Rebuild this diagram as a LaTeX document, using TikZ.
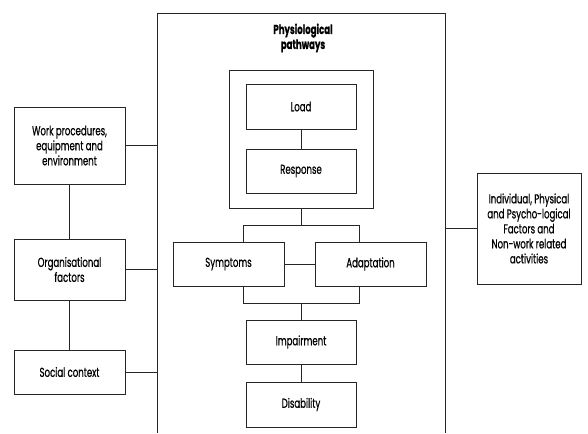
\documentclass[tikz,border=0pt]{standalone}
\usepackage{fontspec}
\setmainfont{Poppins}[FakeStretch=0.66, FakeBold=0.6]
\begin{document}
\begin{tikzpicture}[x=1pt,y=-1pt,
  line/.style={line width=0.8pt, draw=black!85},
  box/.style={line, draw, align=center, inner sep=0pt, fill=white,
    font=\fontsize{13}{15}\selectfont},
  title/.style={align=center, font=\fontsize{13}{15}\selectfont\bfseries}]
\useasboundingbox (0,0) rectangle (588,433);
% main frame (open at the bottom)
\coordinate (mBL) at (157,433);
\coordinate (mTL) at (157,13);
\coordinate (mTR) at (445,13);
\coordinate (mBR) at (445,433);
\draw[line] (mBL) -- (mTL) -- (mTR) -- (mBR);
\node[title] (ttl) at (303,38) {Physiological\\pathways};
% left boxes
\node[box, minimum width=111, minimum height=77] (wp) at (69.5,145.5) {Work procedures,\\equipment and\\environment};
\node[box, minimum width=111, minimum height=61] (org) at (69.5,269.5) {Organisational\\factors};
\node[box, minimum width=111, minimum height=44] (soc) at (69.5,372) {Social context};
% inner pathway
\node[box, minimum width=144, minimum height=138] (cont) at (301,139) {};
\node[box, minimum width=110, minimum height=45] (load) at (301,106.5) {Load};
\node[box, minimum width=110, minimum height=44] (resp) at (301,171) {Response};
\node[box, minimum width=111, minimum height=44] (sym) at (228.5,264) {Symptoms};
\node[box, minimum width=111, minimum height=44] (adp) at (370.5,264) {Adaptation};
\node[box, minimum width=110, minimum height=44] (imp) at (301,342) {Impairment};
\node[box, minimum width=110, minimum height=45] (dis) at (301,404.5) {Disability};
% right box
\node[box, minimum width=104, minimum height=111] (ind) at (529,228.5) {Individual, Physical\\and Psycho-logical\\Factors and\\Non-work related\\activities};
% junction coordinates
\coordinate (j1) at (301,225);
\coordinate (j1l) at (243,225);
\coordinate (j1r) at (359,225);
\coordinate (j2) at (301,303);
\coordinate (j2l) at (243,303);
\coordinate (j2r) at (359,303);
% connectors
\draw[line] (wp.south) -- (org.north);
\draw[line] (org.south) -- (soc.north);
\draw[line] (wp.east) -- (wp.east -| mTL);
\draw[line] (org.east) -- (org.east -| mTL);
\draw[line] (soc.east) -- (soc.east -| mTL);
\draw[line] (ind.west) -- (ind.west -| mTR);
\draw[line] (load.south) -- (resp.north);
\draw[line] (cont.south) -- (j1);
\draw[line] (j1l |- sym.north) -- (j1l) -- (j1r) -- (j1r |- adp.north);
\draw[line] (sym.east) -- (adp.west);
\draw[line] (j2l |- sym.south) -- (j2l) -- (j2r) -- (j2r |- adp.south);
\draw[line] (j2) -- (imp.north);
\draw[line] (imp.south) -- (dis.north);
\end{tikzpicture}
\end{document}
